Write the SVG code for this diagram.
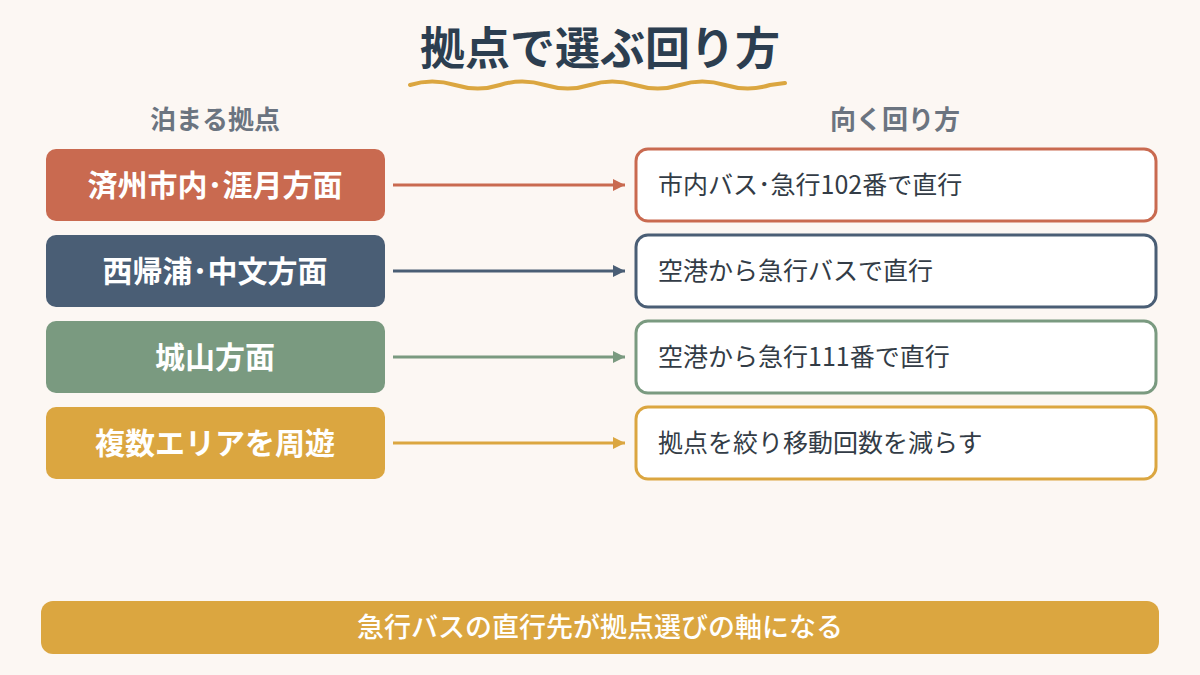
<svg xmlns="http://www.w3.org/2000/svg" width="1200" height="675" viewBox="0 0 1200 675">
<style>
text{font-family:"Noto Sans CJK JP","Noto Sans",sans-serif}
.t{font-size:45px;font-weight:700;fill:#2c3e50}
.h{font-size:26px;font-weight:700;fill:#6b7480}
.l{font-size:30px;font-weight:700;fill:#fff}
.r{font-size:25px;fill:#333c46}
.rb{fill:#fff;stroke-width:3}
</style>
<defs>
<marker id="a1" viewBox="0 0 10 10" refX="10" refY="5" markerWidth="12" markerHeight="12" markerUnits="userSpaceOnUse" orient="auto"><path d="M0,0L10,5L0,10z" fill="#c96a50"/></marker>
<marker id="a2" viewBox="0 0 10 10" refX="10" refY="5" markerWidth="12" markerHeight="12" markerUnits="userSpaceOnUse" orient="auto"><path d="M0,0L10,5L0,10z" fill="#4a5e75"/></marker>
<marker id="a3" viewBox="0 0 10 10" refX="10" refY="5" markerWidth="12" markerHeight="12" markerUnits="userSpaceOnUse" orient="auto"><path d="M0,0L10,5L0,10z" fill="#7a9a80"/></marker>
<marker id="a4" viewBox="0 0 10 10" refX="10" refY="5" markerWidth="12" markerHeight="12" markerUnits="userSpaceOnUse" orient="auto"><path d="M0,0L10,5L0,10z" fill="#dba640"/></marker>
</defs>
<rect width="1200" height="675" fill="#fcf7f3"/>
<g id="title">
<text class="t" x="600" y="65" text-anchor="middle">拠点で選ぶ回り方</text>
<path d="M410,85 Q432,78 455,85 T500,85 T545,85 T590,85 T635,85 T680,85 T725,85 T770,85 L785,83" fill="none" stroke="#dba640" stroke-width="4" stroke-linecap="round"/>
</g>
<text class="h" x="215" y="129" text-anchor="middle">泊まる拠点</text>
<text class="h" x="895" y="129" text-anchor="middle">向く回り方</text>
<g id="n1"><rect x="46" y="149" width="339" height="72" rx="10" fill="#c96a50"/><text class="l" x="215" y="196" text-anchor="middle">済州市内･涯月方面</text></g>
<g id="n2"><rect x="46" y="235" width="339" height="72" rx="10" fill="#4a5e75"/><text class="l" x="215" y="282" text-anchor="middle">西帰浦･中文方面</text></g>
<g id="n3"><rect x="46" y="321" width="339" height="72" rx="10" fill="#7a9a80"/><text class="l" x="215" y="368" text-anchor="middle">城山方面</text></g>
<g id="n4"><rect x="46" y="407" width="339" height="72" rx="10" fill="#dba640"/><text class="l" x="215" y="454" text-anchor="middle">複数エリアを周遊</text></g>
<g id="m1"><rect class="rb" x="636" y="149" width="520" height="72" rx="12" stroke="#c96a50"/><text class="r" x="658" y="194">市内バス･急行102番で直行</text></g>
<g id="m2"><rect class="rb" x="636" y="235" width="520" height="72" rx="12" stroke="#4a5e75"/><text class="r" x="658" y="280">空港から急行バスで直行</text></g>
<g id="m3"><rect class="rb" x="636" y="321" width="520" height="72" rx="12" stroke="#7a9a80"/><text class="r" x="658" y="366">空港から急行111番で直行</text></g>
<g id="m4"><rect class="rb" x="636" y="407" width="520" height="72" rx="12" stroke="#dba640"/><text class="r" x="658" y="452">拠点を絞り移動回数を減らす</text></g>
<g id="connectors" stroke-width="3">
<line x1="393" y1="185" x2="625" y2="185" stroke="#c96a50" marker-end="url(#a1)"/>
<line x1="393" y1="271" x2="625" y2="271" stroke="#4a5e75" marker-end="url(#a2)"/>
<line x1="393" y1="357" x2="625" y2="357" stroke="#7a9a80" marker-end="url(#a3)"/>
<line x1="393" y1="443" x2="625" y2="443" stroke="#dba640" marker-end="url(#a4)"/>
</g>
<g id="footer"><rect x="41" y="601" width="1118" height="53" rx="12" fill="#dba640"/><text x="600" y="637" text-anchor="middle" style="font-size:27px;font-weight:500;fill:#fff">急行バスの直行先が拠点選びの軸になる</text></g>
</svg>
